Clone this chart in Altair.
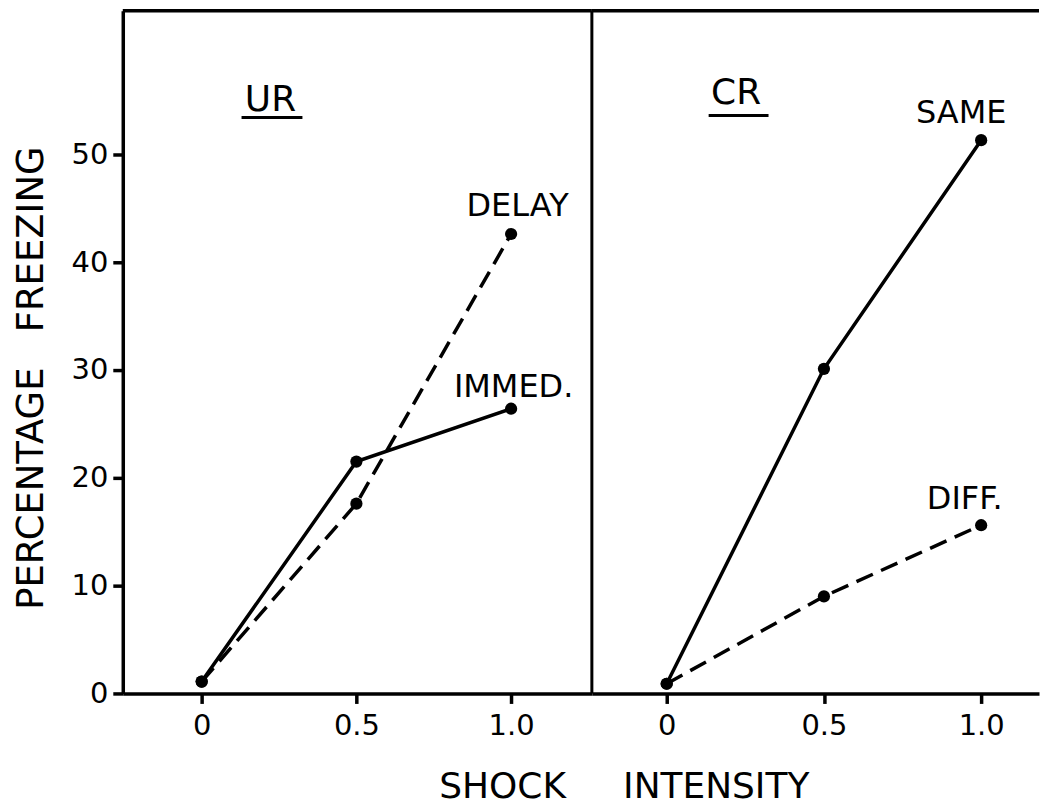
import altair as alt
import pandas as pd

# ---- data ----
shock = [0.0, 0.5, 1.0]
ur_immed = [1.1, 21.5, 26.4]
ur_delay = [1.1, 17.6, 42.6]
cr_same = [0.9, 30.1, 51.3]
cr_diff = [0.9, 9.0, 15.6]

y_ticks = [0, 10, 20, 30, 40, 50]
x_ticks = [0.0, 0.5, 1.0]

FONT = "DejaVu Sans"
NB = "\u00a0"
W_L, W_R, H = 470, 448, 684

y_scale = alt.Scale(domain=[0, 63.3], nice=False, zero=False)
xl_scale = alt.Scale(domain=[-0.255, 1.261], nice=False, zero=False)
xr_scale = alt.Scale(domain=[-0.238, 1.184], nice=False, zero=False)

lab_expr = "datum.value == 0 ? '0' : format(datum.value, '.1f')"

common_axis = dict(grid=False, tickSize=10, tickWidth=3.5, domainWidth=3.5,
                   domainColor="black", tickColor="black", labelColor="black",
                   labelFont=FONT, labelFontSize=29, titleFont=FONT,
                   titleFontWeight="normal", titleColor="black")

xl_axis = alt.Axis(values=x_ticks, labelExpr=lab_expr, labelPadding=8,
                   title=f"SHOCK{NB*5}INTENSITY", titleFontSize=36,
                   titleX=502, titleY=104, titleAlign="center",
                   titleBaseline="alphabetic", **common_axis)
xr_axis = alt.Axis(values=x_ticks, labelExpr=lab_expr, labelPadding=8,
                   title=None, **common_axis)
y_axis = alt.Axis(values=y_ticks, labelPadding=5,
                   title=f"PERCENTAGE{NB*3}FREEZING", titleFontSize=37,
                   titleX=-80, titleY=367.5, titleAlign="center",
                   titleBaseline="alphabetic", titleAngle=270, **common_axis)


def series_df(vals, name):
    return pd.DataFrame({"shock": shock, "pct": vals, "series": name})


def panel(df_solid, df_dash, xscale, xaxis, yaxis, width, lab_solid, lab_dash,
          title_txt, title_pos, underline, divider):
    X = alt.X("shock:Q", scale=xscale, axis=xaxis)
    Y = alt.Y("pct:Q", scale=y_scale, axis=yaxis)
    solid = alt.Chart(df_solid).mark_line(color="black", strokeWidth=3.5).encode(x=X, y=Y)
    dash = alt.Chart(df_dash).mark_line(color="black", strokeWidth=3.5,
                                        strokeDash=[18, 9]).encode(x=X, y=Y)
    pts = alt.Chart(pd.concat([df_solid, df_dash])).mark_circle(
        color="black", opacity=1, size=150).encode(x=X, y=Y)
    layers = [solid, dash, pts]
    for d, (dx, dy) in ((df_solid, lab_solid), (df_dash, lab_dash)):
        last = d.iloc[[-1]]
        layers.append(alt.Chart(last).mark_text(
            font=FONT, fontSize=32, color="black", align="center",
            baseline="alphabetic", dx=dx, dy=dy).encode(
            x=X, y=Y, text="series:N"))
    # panel heading + underline
    layers.append(alt.Chart(pd.DataFrame({"t": [title_txt]})).mark_text(
        font=FONT, fontSize=36, color="black", align="center",
        baseline="alphabetic").encode(
        x=alt.value(title_pos[0]), y=alt.value(title_pos[1]), text="t:N"))
    layers.append(alt.Chart(pd.DataFrame({"t": [0]})).mark_rule(
        color="black", strokeWidth=3).encode(
        x=alt.value(underline[0]), x2=alt.value(underline[1]),
        y=alt.value(underline[2])))
    # frame: top border (and divider)
    layers.append(alt.Chart(pd.DataFrame({"t": [0]})).mark_rule(
        color="black", strokeWidth=3.5).encode(
        x=alt.value(0), x2=alt.value(width), y=alt.value(0)))
    if divider:
        layers.append(alt.Chart(pd.DataFrame({"t": [0]})).mark_rule(
            color="black", strokeWidth=3).encode(
            x=alt.value(width), y=alt.value(0), y2=alt.value(H)))
    return alt.layer(*layers).properties(width=width, height=H)


left = panel(series_df(ur_immed, "IMMED."), series_df(ur_delay, "DELAY"),
             xl_scale, xl_axis, y_axis, W_L, (2.5, -12), (6.5, -18),
             "UR", (148, 100), (119, 180, 107), True)
right = panel(series_df(cr_same, "SAME"), series_df(cr_diff, "DIFF."),
              xr_scale, xr_axis, None, W_R, (-20, -17), (-16.5, -16),
              "CR", (144.5, 93), (117, 177, 105), False)

chart = alt.hconcat(left, right, spacing=0, bounds="flush").properties(
    padding={"left": 5, "top": 0, "right": 0, "bottom": 0},
    background="white",
).configure_view(strokeWidth=0)

chart.save("out.html", embed_options={"renderer": "svg", "actions": False})
